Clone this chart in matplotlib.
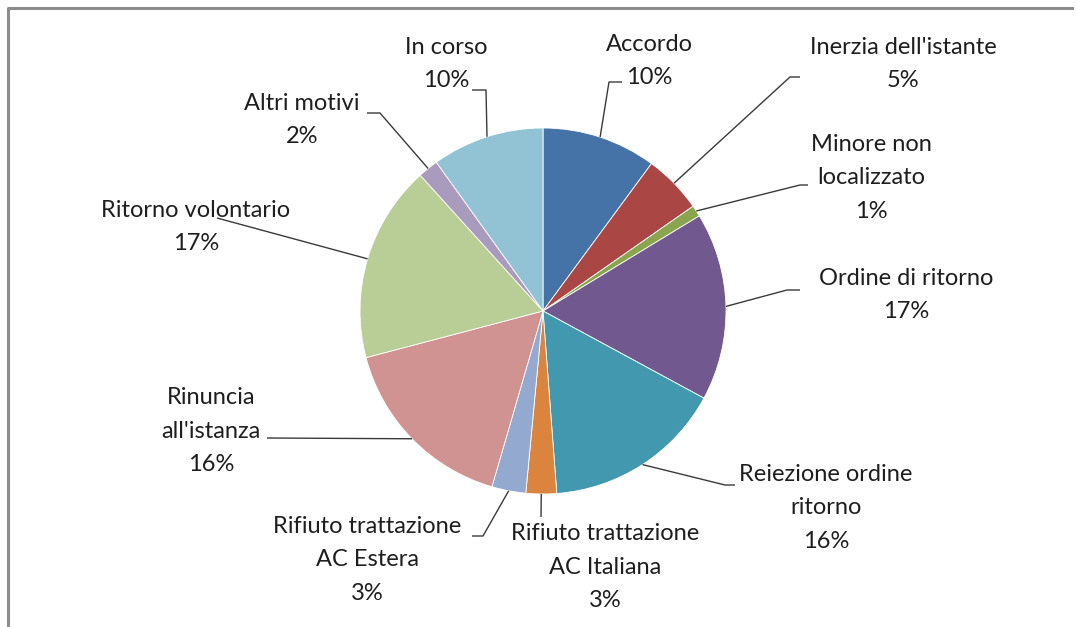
import matplotlib
matplotlib.use('Agg')
import matplotlib.pyplot as plt
import numpy as np

# Data (percent shares)
labels = ['Accordo', "Inerzia dell'istante", 'Minore non\nlocalizzato', 'Ordine di ritorno',
          'Reiezione ordine\nritorno', 'Rifiuto trattazione\nAC Italiana',
          'Rifiuto trattazione\nAC Estera', 'Rinuncia\nall\'istanza', 'Ritorno volontario',
          'Altri motivi', 'In corso']
values = [10.1, 5.2, 1.0, 16.6, 15.9, 2.7, 3.0, 16.4, 17.4, 1.8, 9.9]
colors = ['#4572A7', '#AA4643', '#89A54E', '#71588F', '#4198AF', '#DB843D',
          '#93A9CF', '#D19392', '#B9CD96', '#A99BBD', '#92C3D4']

W, H = 1077, 627
plt.rcParams['font.family'] = ['Lato', 'DejaVu Sans']

fig = plt.figure(figsize=(W / 100, H / 100), dpi=100)
ax = fig.add_axes([0, 0, 1, 1])

cx, cy, r = 543, H - 311, 183
wedges, _ = ax.pie(values, colors=colors, startangle=90, counterclock=False,
                   center=(cx, cy), radius=r, frame=True,
                   wedgeprops=dict(linewidth=0.6, edgecolor='white'))
ax.set_xlim(0, W)
ax.set_ylim(0, H)
ax.set_aspect('equal')
ax.axis('off')

# label layout: text centre (px from top-left) and leader path after the wedge edge
text_pos = [(649, 61), (903, 64), (871, 178), (906, 295), (826, 508), (605, 567),
            (367, 560), (211, 431), (196, 227), (302, 120), (446, 64)]
leaders = [[(609, 82), (622, 82)], [(790, 77), (800, 77)], [(800, 185), (808, 185)],
           [(787, 290), (800, 290)], [(725, 485), (735, 485)], [(541, 517)],
           [(483, 536), (472, 536)], [(267, 438)], [(217, 218)],
           [(380, 113), (367, 113)], [(486, 90), (472, 90)]]

for w, lab, v, (tx, ty), path in zip(wedges, labels, values, text_pos, leaders):
    mid = np.deg2rad((w.theta1 + w.theta2) / 2)
    sx, sy = cx + r * np.cos(mid), cy + r * np.sin(mid)
    xs = [sx] + [p[0] for p in path]
    ys = [sy] + [H - p[1] for p in path]
    ax.plot(xs, ys, color='#3a3a3a', lw=1.0, solid_capstyle='butt')
    ax.text(tx, H - ty, f'{lab}\n{round(v)}%', ha='center', va='center',
            fontsize=17, color='#1e1e1e', linespacing=1.72)

# chart frame
ax.plot([8, 8, 1072], [0, H - 8, H - 8], color='#8c8c8c', lw=2.2)

fig.savefig('out.png', dpi=100)
